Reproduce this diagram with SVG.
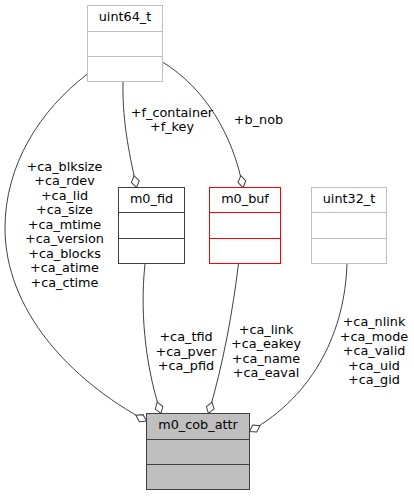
<svg xmlns="http://www.w3.org/2000/svg" width="414" height="496" viewBox="0 0 414 496">
<style>
text{font-family:"DejaVu Sans","Noto Sans",sans-serif;font-size:12.8px;fill:#000;text-anchor:middle}
.box{fill:#fff;stroke-width:1}
.grey{stroke:#bfbfbf}
.black{stroke:#404040}
.red{stroke:#ff0000}
.attr{fill:#bfbfbf;stroke:#404040}
.div{stroke-width:1;fill:none}
.edge{fill:none;stroke:#404040;stroke-width:1;marker-end:url(#od)}
</style>
<defs>
<marker id="od" viewBox="-1 -5 14 10" refX="12" refY="0" markerWidth="14" markerHeight="10" markerUnits="userSpaceOnUse" orient="auto">
<path d="M0,0 L6,-4 L12,0 L6,4 Z" fill="#fff" stroke="#404040" stroke-width="1"/>
</marker>
</defs>
<rect width="414" height="496" fill="#fff"/>
<g id="connectors">
<path class="edge" d="M87.5,74 C40,110 5,165 5,228 C5,310 70,380 146.5,421"/>
<path class="edge" d="M123,81.5 C122,125 131,160 136.5,187.5"/>
<path class="edge" d="M162.5,62 C205,88 233,135 243,187.5"/>
<path class="edge" d="M145,263.5 C139,320 148,375 161,413.5"/>
<path class="edge" d="M238.5,263.5 C233,310 223,365 208.5,413.5"/>
<path class="edge" d="M347,263.5 C345,330 315,395 249.5,431.5"/>
<text x="64.5" y="170.5">+ca_blksize</text>
<text x="64.5" y="185">+ca_rdev</text>
<text x="64.5" y="199.5">+ca_lid</text>
<text x="64.5" y="214">+ca_size</text>
<text x="64.5" y="228.5">+ca_mtime</text>
<text x="64.5" y="243">+ca_version</text>
<text x="64.5" y="257.5">+ca_blocks</text>
<text x="64.5" y="272">+ca_atime</text>
<text x="64.5" y="286.5">+ca_ctime</text>
<text x="172" y="116.5">+f_container</text>
<text x="172" y="131">+f_key</text>
<text x="258.5" y="124">+b_nob</text>
<text x="186" y="341">+ca_tfid</text>
<text x="186" y="355.5">+ca_pver</text>
<text x="186" y="370">+ca_pfid</text>
<text x="266" y="333.5">+ca_link</text>
<text x="266" y="348">+ca_eakey</text>
<text x="266" y="362.5">+ca_name</text>
<text x="266" y="377">+ca_eaval</text>
<text x="374" y="326">+ca_nlink</text>
<text x="374" y="340.5">+ca_mode</text>
<text x="374" y="355">+ca_valid</text>
<text x="374" y="369.5">+ca_uid</text>
<text x="374" y="384">+ca_gid</text>
</g>
<g id="uint64_t">
<rect class="box grey" x="87.5" y="5.5" width="75" height="76"/>
<path class="div grey" d="M87.5,31.5H162.5M87.5,56.5H162.5"/>
<text x="125" y="21">uint64_t</text>
</g>
<g id="m0_fid">
<rect class="box black" x="118.5" y="187.5" width="66" height="76"/>
<path class="div black" d="M118.5,212.5H184.5M118.5,238.5H184.5"/>
<text x="151.5" y="203">m0_fid</text>
</g>
<g id="m0_buf">
<rect class="box red" x="209.5" y="187.5" width="71" height="76"/>
<path class="div red" d="M209.5,212.5H280.5M209.5,238.5H280.5"/>
<text x="245" y="203">m0_buf</text>
</g>
<g id="uint32_t">
<rect class="box grey" x="311.5" y="187.5" width="75" height="76"/>
<path class="div grey" d="M311.5,212.5H386.5M311.5,238.5H386.5"/>
<text x="349" y="203">uint32_t</text>
</g>
<g id="m0_cob_attr">
<rect class="attr" x="146.5" y="413.5" width="103" height="76"/>
<path class="div black" d="M146.5,439.5H249.5M146.5,464.5H249.5"/>
<text x="198" y="429">m0_cob_attr</text>
</g>
</svg>
